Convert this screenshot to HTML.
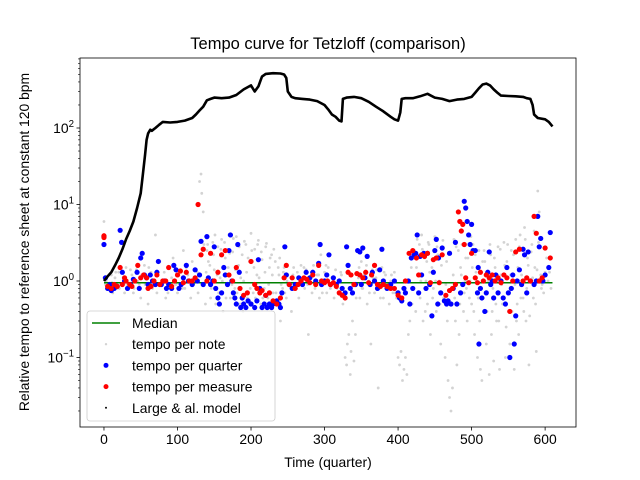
<!DOCTYPE html>
<html><head><meta charset="utf-8"><style>
html,body{margin:0;padding:0;background:#fff;}
svg{display:block;font-family:"Liberation Sans","DejaVu Sans",sans-serif;}
</style></head><body>
<svg id="chart" width="640" height="480" viewBox="0 0 640 480">
<rect width="640" height="480" fill="#fff"/>
<text x="328" y="49" font-size="16.5" text-anchor="middle">Tempo curve for Tetzloff (comparison)</text>
<text x="328" y="467" font-size="13.9" text-anchor="middle">Time (quarter)</text>
<text transform="translate(29,242) rotate(-90)" font-size="13.9" text-anchor="middle">Relative tempo to reference sheet at constant 120 bpm</text>
<g id="plot"></g>
</svg>
<script>
const modelX=[0,5,10,15,20,25,30,35,40,45,50,53,56,58,60,63,65,70,75,80,90,100,110,120,125,130,135,140,145,150,160,170,180,190,200,205,210,213,215,220,230,240,245,248,250,255,260,270,280,290,300,305,310,315,320,323,325,330,340,350,360,370,380,390,395,400,403,405,410,420,430,440,450,460,470,480,490,500,505,510,515,520,525,530,535,540,550,560,570,575,580,583,585,590,600,605,610];
const modelY=[1,1.15,1.3,1.6,2,2.6,3.5,4.5,6,9,14,25,45,70,85,95,92,100,110,120,118,120,125,135,150,170,190,230,240,250,245,250,270,320,360,300,350,420,470,510,520,515,500,450,300,255,245,240,235,225,200,175,150,140,125,122,240,250,255,245,220,190,165,140,130,125,160,240,245,245,260,280,250,240,225,235,240,255,290,330,370,380,360,320,290,265,262,260,255,245,240,200,150,135,130,120,105];
const noteX=[0,0,2,5,8,10,12,15,18,20,24,28,30,34,38,40,44,48,50,55,58,60,64,68,70,72,76,80,84,88,90,94,98,100,104,108,110,114,118,120,124,128,130,132,133,135,136,138,140,142,145,148,150,152,155,158,160,162,165,168,170,172,175,178,180,183,185,188,190,193,195,198,200,203,205,208,210,213,215,218,220,223,225,228,230,233,236,238,240,243,245,248,250,253,255,258,260,263,265,268,270,273,275,278,280,283,285,288,290,293,295,298,300,303,305,308,310,313,315,318,320,323,325,328,330,331,333,335,336,338,340,342,344,346,348,350,352,355,358,360,363,365,368,370,373,375,378,380,383,385,388,390,393,395,398,400,402,404,406,408,410,412,414,416,418,420,422,424,426,428,430,432,434,436,438,440,442,444,446,448,450,452,454,456,458,460,462,464,466,468,470,472,474,476,478,480,482,484,486,488,490,492,494,496,498,500,502,504,506,508,510,512,514,516,518,520,522,524,526,528,530,532,534,536,538,540,542,544,546,548,550,552,554,556,558,560,562,564,566,568,570,572,574,576,578,580,582,584,586,588,590,592,594,596,598,600,604,608];
const noteY=[6,1.1,0.9,0.8,0.75,1.2,0.7,1.1,0.8,1.3,0.9,0.7,1.5,0.8,1.2,0.7,1.4,0.9,0.6,1.6,0.8,0.5,1.3,0.9,4,0.7,1.8,1.0,0.6,1.5,0.8,2.0,0.9,0.7,1.4,2.5,0.8,1.2,0.6,1.8,1.0,0.7,20,25,14,8,3,0.5,2.5,1.8,0.6,3.2,1.4,0.5,2.8,1.1,3.5,0.4,2.0,1.2,4,0.6,2.4,0.8,3.8,1.6,0.5,2.2,1.0,3.0,0.6,1.8,4.2,0.7,2.6,1.2,3.4,0.5,1.9,0.8,2.8,0.6,1.5,2.2,0.7,1.8,0.5,1.2,0.3,0.8,1.5,0.6,1.2,0.9,0.4,1.5,0.9,1.3,0.6,1.6,1.0,0.8,1.4,0.2,1.1,0.7,1.6,0.9,1.2,0.6,2.2,0.9,1.3,0.7,1.5,0.8,1.1,0.6,1.4,0.9,0.7,1.2,0.5,0.1,0.08,0.15,0.2,0.06,0.12,0.3,0.09,0.2,2.5,1.1,0.6,1.8,0.8,1.3,0.5,1.0,0.15,1.4,0.7,1.1,0.04,0.8,1.5,0.6,1.2,0.8,0.5,1.0,0.7,1.3,0.6,0.1,0.08,0.12,0.05,0.07,0.1,0.06,0.2,0.3,1.5,0.8,2.5,0.4,3.5,1.2,0.6,4,0.3,2.0,1.0,0.5,3.0,0.2,1.5,0.8,3.8,0.4,2.2,1.0,0.15,2.8,0.6,0.1,1.8,0.05,0.03,0.02,0.04,3.5,0.3,0.08,2.5,0.5,1.2,4.5,0.7,2,0.3,6,1.0,0.5,3.0,0.2,1.3,0.1,2.5,0.07,0.05,0.6,1.8,0.15,1.0,0.06,2.2,0.4,0.09,1.5,0.3,2.8,0.07,1.2,0.5,3.2,0.1,1.8,0.4,0.15,2.5,0.8,0.07,3.5,0.5,0.2,4,1.2,0.6,5,0.3,2,0.08,1.0,3,0.6,1.5,0.12,15,8,1.2,0.9,0.7,1.3,1.0,0.8];
const noteX2=[3,7,11,16,21,26,31,36,41,46,51,56,61,66,71,77,82,87,92,97,102,107,112,117,122,127,139,141,144,146,149,151,154,156,159,161,164,166,169,171,174,176,179,181,184,186,189,191,194,196,199,201,204,206,209,211,214,216,219,221,224,226,229,231,234,237,239,241,244,246,249,257,262,267,272,277,282,287,292,297,302,307,312,317,322,343,347,351,354,357,361,366,371,376,381,386,391,396,419,421,425,427,429,431,433,437,439,441,443,447,449,451,453,457,459,461,465,467,471,475,477,479,483,485,487,489,491,493,495,497,499,501,503,505,507,509,511,515,517,519,521,523,525,527,529,531,533,535,537,539,541,543,545,547,549,551,553,555,557,559,561,563,565,567,569,571,573,575,577,579,581,583,585,587,589,591,595,599,602,606];
const noteY2=[1.0,0.85,0.95,1.3,0.8,1.1,0.9,1.4,0.8,1.0,1.2,0.9,1.5,0.8,1.2,0.9,1.3,0.7,1.1,0.9,1.2,0.8,1.5,1.0,0.9,1.3,1.3,3.0,1.6,0.8,2.2,4,1.2,0.7,2.6,1.0,3.2,0.6,1.5,2.3,0.9,3.6,1.4,0.7,2.8,1.1,0.4,3.3,1.3,2.0,0.8,2.5,1.5,0.6,3.0,1.1,2.4,0.6,1.3,3.1,0.9,2.0,1.2,2.6,0.7,1.5,2.0,0.9,1.3,0.7,1.0,1.2,0.8,1.1,1.5,0.9,1.3,0.8,1.2,0.7,1.6,0.9,1.1,0.8,1.3,0.6,1.5,0.8,1.2,1.6,0.7,1.1,1.4,0.6,1.3,0.9,1.2,0.7,0.5,2.0,1.5,0.7,3.0,1.0,2.6,0.4,1.8,3.2,1.3,0.6,2.4,1.0,2.8,0.5,1.6,3.4,0.9,0.3,2.4,1.2,0.6,2.8,0.2,1.5,3.0,0.4,1.0,0.8,2.0,0.6,3.8,1.5,0.4,2.2,1.0,0.6,0.3,1.8,2.5,0.7,0.4,1.3,3.0,0.2,0.8,2.0,0.5,1.2,0.3,2.6,0.9,0.5,1.6,0.25,3.0,0.7,1.2,0.4,2.2,0.9,0.3,1.5,2.8,0.6,1.0,0.4,3.5,0.8,1.6,0.35,2.4,1.1,4.5,0.5,1.4,3.2,0.8,1.2,2.0,1.3,0.8,1.1,1.0];
const quarterX=[0,0,2,5,8,10,14,18,22,24,25,28,32,36,40,45,48,50,52,55,58,60,63,66,70,72,74,78,82,85,88,92,95,98,102,105,108,112,115,120,124,127,130,132,135,140,142,145,148,150,152,155,157,160,163,165,168,170,172,174,176,178,180,182,184,186,188,190,193,196,200,205,208,210,212,215,218,220,222,225,228,230,235,238,240,242,246,248,252,256,260,265,270,275,280,284,288,292,294,296,300,303,306,308,312,316,320,324,328,330,332,335,338,342,345,348,350,352,355,358,362,365,368,372,375,378,380,385,390,395,400,402,405,408,410,414,416,418,420,422,424,426,428,430,432,435,438,440,443,446,448,450,452,454,455,458,460,463,466,468,470,472,475,478,480,485,488,490,492,494,496,498,500,502,505,508,509,510,512,514,518,520,522,524,526,528,530,533,536,540,543,546,548,550,552,554,556,558,560,562,565,568,570,572,575,577,580,585,588,590,592,594,597,600,605,607];
const quarterY=[3.0,3.8,1.1,0.8,0.9,0.75,0.8,0.85,4.6,3.2,1.3,1.0,0.8,0.9,1.05,1.3,0.8,2.0,2.3,1.2,1.1,0.9,1.2,1.0,0.9,1.3,1.8,0.9,1.0,0.8,0.9,0.8,1.6,1.4,0.8,0.9,1.1,1.6,1.0,0.9,1.4,1.0,1.2,3.3,0.9,3.8,1.1,0.9,1.0,2.8,0.8,0.6,0.5,0.7,1.5,1.2,0.9,2.5,4,1.0,0.7,0.6,0.5,3.0,1.3,0.45,0.6,0.5,0.45,0.55,0.5,0.45,0.55,1.9,0.8,0.45,0.5,0.65,0.45,0.5,0.45,0.5,0.55,0.5,0.45,0.7,2.8,1.2,0.9,0.8,0.9,1.1,0.9,1.3,1.1,1.3,1.0,1.7,3.0,0.9,1.0,1.2,2.2,0.9,1.1,0.9,1.0,0.8,0.7,2.8,1.6,0.8,0.7,0.9,2.5,2.4,0.9,2.7,1.1,2.1,0.9,1.3,1.0,0.8,1.4,2.6,1.0,0.8,0.9,1.0,0.7,0.6,0.55,0.8,0.7,1.0,0.5,2.0,0.8,2.2,2.3,4,0.7,2.1,1.2,2.3,0.8,2.3,0.9,0.35,1.3,2.5,3.5,0.5,2.0,0.7,2.7,0.55,0.5,0.55,2.3,0.5,0.8,3.2,0.5,0.7,0.9,11,9,6,4,3,5.5,2.5,2.5,0.7,1.5,0.15,0.8,0.6,0.4,0.7,1.3,2.4,0.9,1.0,0.6,1.2,0.7,1.0,0.6,0.5,1.5,0.7,0.1,0.8,1.2,0.15,0.35,1.0,1.4,0.9,2.6,2.2,0.7,2.4,1.0,0.9,1.0,7,2.8,3.6,1.0,1.2,1.5,4.3];
const measureX=[0,0,5,10,14,18,22,25,28,30,35,38,42,46,50,54,58,60,64,68,72,76,80,84,88,92,96,100,104,108,112,116,120,124,128,132,135,140,145,150,155,160,165,170,175,180,185,190,195,200,205,208,212,215,220,225,230,235,240,245,248,252,256,260,264,268,272,276,280,284,288,292,296,300,304,308,312,316,320,324,328,332,336,340,344,348,352,356,360,364,368,372,376,380,385,390,395,400,405,410,415,420,425,428,432,436,440,444,448,452,456,460,465,470,474,478,482,484,486,488,490,492,496,500,505,508,512,516,520,524,528,532,536,540,544,548,552,556,560,565,570,575,580,585,588,592,596,600,607];
const measureY=[3.7,3.9,0.85,0.8,0.9,0.85,1.5,0.9,1.1,1.0,0.9,0.85,1.0,1.6,1.1,1.2,1.1,0.8,0.85,1.0,1.2,0.9,1.0,1.0,1.5,0.85,1.0,1.2,1.35,0.95,1.3,1.0,1.0,1.1,10,2.2,2.6,1.0,2.3,1.0,1.3,2.2,2.5,1.2,1.0,1.5,0.8,0.65,0.7,1.8,0.9,0.8,0.7,0.75,0.65,0.7,0.55,0.5,0.6,1.1,1.6,0.9,1.1,0.8,0.9,1.0,1.1,1.05,0.95,1.2,0.9,1.6,1.0,0.95,1.0,0.9,0.95,0.85,0.7,0.65,0.6,1.3,1.2,0.9,1.25,1.2,1.1,1.3,0.95,1.2,1.6,0.9,0.85,0.9,0.85,0.8,0.8,0.65,0.6,1.0,2.3,2.5,2.0,1.2,2.2,2.1,2.3,0.95,1.9,2.0,0.95,2.2,0.65,0.75,0.8,0.9,8,6,4.5,5.5,3,1.1,0.95,2.3,1.1,0.95,1.3,1.0,1.2,1.1,1.2,1.0,1.1,0.95,1.2,1.1,0.4,1.0,2.4,2.6,1.0,1.1,1.0,7,4.2,1.0,1.1,2.7,2.0];
const medianValue=[0.95];
const xTicks=[0,100,200,300,400,500,600];
const yTickExps=[-1,0,1,2];

const NS='http://www.w3.org/2000/svg';
const L=80,R=576,T=58,B=427;
const XMIN=-32.6,XMAX=642;
function px(x){return L+(R-L)*(x-XMIN)/(XMAX-XMIN);}
function py(v){return 281-76.5*Math.log10(v);}
const g=document.getElementById('plot');
function mk(tag,attrs,parent){const e=document.createElementNS(NS,tag);for(const k in attrs)e.setAttribute(k,attrs[k]);(parent||g).appendChild(e);return e;}
const defs=mk('defs',{});
const cp=mk('clipPath',{id:'clip'},defs);mk('rect',{x:L,y:T,width:R-L,height:B-T},cp);
const data=mk('g',{'clip-path':'url(#clip)'});



const noteG=mk('g',{fill:'#d3d3d3'},data);


noteX.forEach((x,i)=>{const c=mk('circle',{cx:px(x),cy:py(noteY[i]),r:1.4},noteG);

});
noteX2.forEach((x,i)=>{const c=mk('circle',{cx:px(x),cy:py(noteY2[i]),r:1.4},noteG);

});

const med=mk('line',{x1:px(0),x2:px(610),y1:py(medianValue[0]),y2:py(medianValue[0]),stroke:'#008000','stroke-width':1.5},data);



const qG=mk('g',{fill:'#0000ff'},data);


quarterX.forEach((x,i)=>{const c=mk('circle',{cx:px(x),cy:py(quarterY[i]),r:2.6},qG);

});

const mG=mk('g',{fill:'#ff0000'},data);


measureX.forEach((x,i)=>{const c=mk('circle',{cx:px(x),cy:py(measureY[i]),r:2.6},mG);

});

const pts=modelX.map((x,i)=>px(x).toFixed(1)+','+py(modelY[i]).toFixed(1)).join(' ');
const ml=mk('polyline',{points:pts,fill:'none',stroke:'#000','stroke-width':2.6,'stroke-linejoin':'round'},data);



const fr=mk('rect',{x:L,y:T,width:R-L,height:B-T,fill:'none',stroke:'#000','stroke-width':0.8});



xTicks.forEach(t=>{const x=px(t);
mk('line',{x1:x,x2:x,y1:B,y2:B+3.5,stroke:'#000','stroke-width':0.8});
const tx=mk('text',{x:x,y:B+17,'font-size':13.9,'text-anchor':'middle'});tx.textContent=t;

});

for(let e=-2;e<=2;e++){for(let m=2;m<=9;m++){const y=py(m*Math.pow(10,e));if(y>T&&y<B)mk('line',{x1:L-2,x2:L,y1:y,y2:y,stroke:'#000','stroke-width':0.6});}}
yTickExps.forEach(e=>{const y=py(Math.pow(10,e));
mk('line',{x1:L-3.5,x2:L,y1:y,y2:y,stroke:'#000','stroke-width':0.8});
const tx=mk('text',{x:L-6,y:y+5,'font-size':13.9,'text-anchor':'end'});
const a=mk('tspan',{},tx);a.textContent='10';
const b=mk('tspan',{dy:-6,'font-size':9.7},tx);b.textContent=String(e).replace('-','\u2212');

});

const lg=mk('g',{});


mk('rect',{x:87,y:311,width:188,height:110,rx:3,fill:'#fff','fill-opacity':0.8,stroke:'#ccc','stroke-width':0.8},lg);
const entries=[['Median','line','#008000'],['tempo per note','dot','#d3d3d3',1.2],['tempo per quarter','dot','#0000ff',2.5],['tempo per measure','dot','#ff0000',2.5],['Large & al. model','dot','#000',1]];
entries.forEach((en,i)=>{const y=323+i*21.2;
const eg=mk('g',{},lg);


if(en[1]==='line')mk('line',{x1:92,x2:120,y1:y,y2:y,stroke:en[2],'stroke-width':1.5},eg);
else mk('circle',{cx:106,cy:y,r:en[3],fill:en[2]},eg);
const t=mk('text',{x:132,y:y+5,'font-size':13.9},eg);t.textContent=en[0];});
</script>
</body></html>
